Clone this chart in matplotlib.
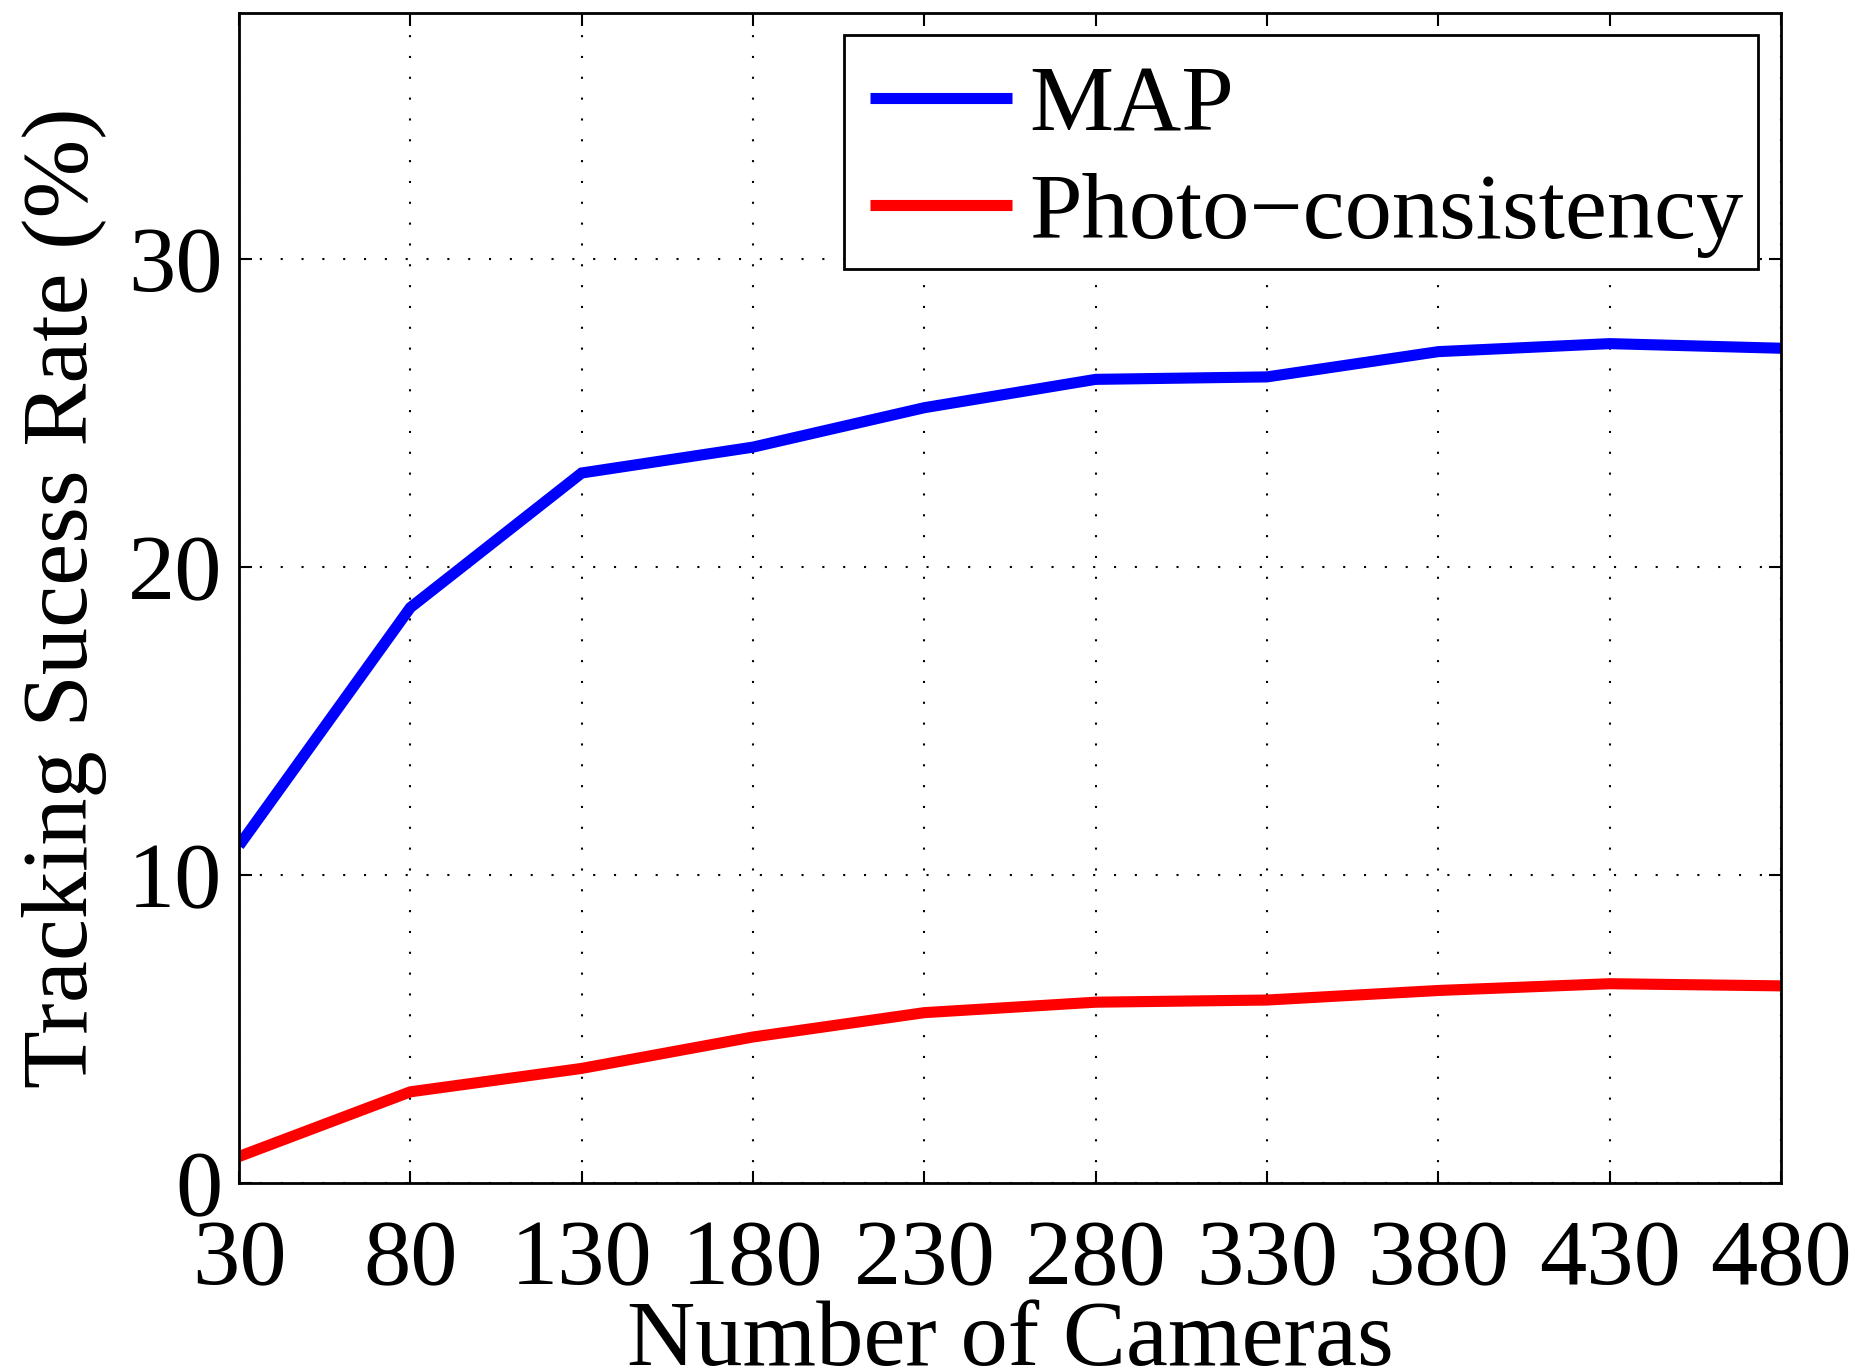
import matplotlib
matplotlib.use("Agg")
import matplotlib.pyplot as plt
from matplotlib.patches import Rectangle

# Number of cameras used for tracking
cameras = [30, 80, 130, 180, 230, 280, 330, 380, 430, 480]

# Tracking success rate (%) for each method
map_rate = [10.95, 18.68, 23.05, 23.89, 25.17, 26.09, 26.17, 26.99, 27.25, 27.10]
photo_rate = [0.86, 2.96, 3.72, 4.74, 5.53, 5.87, 5.94, 6.25, 6.47, 6.40]

series_labels = ["MAP", "Photo\u2212consistency"]
x_ticks = [30, 80, 130, 180, 230, 280, 330, 380, 430, 480]
y_ticks = [0, 10, 20, 30]

plt.rcParams["font.family"] = ["Liberation Serif", "DejaVu Serif"]

W, H, DPI = 1859, 1372, 100
fig = plt.figure(figsize=(W / DPI, H / DPI), dpi=DPI)
ax = fig.add_axes([239 / W, 1 - 1183 / H, (1781 - 239) / W, (1183 - 12.5) / H])

FS = 68
LW = 8

ax.plot(cameras, map_rate, color=(0, 0, 1), lw=LW, label=series_labels[0],
        solid_joinstyle="miter", solid_capstyle="butt")
ax.plot(cameras, photo_rate, color=(1, 0, 0), lw=LW, label=series_labels[1],
        solid_joinstyle="miter", solid_capstyle="butt")

ax.set_xlim(30, 480)
ax.set_ylim(0, 38)
ax.set_xticks(x_ticks)
ax.set_yticks(y_ticks)
ax.set_xticklabels([str(v) for v in x_ticks])
ax.set_yticklabels([str(v) for v in y_ticks])

ax.grid(True, color="black", linestyle=(0, (1, 9)), linewidth=1.5)
ax.tick_params(axis="both", which="major", direction="in", length=9, width=1.5,
               top=True, right=True, labelsize=FS, pad=12)
ax.tick_params(axis="x", pad=26)
for sp in ax.spines.values():
    sp.set_linewidth(2.0)

ax.set_xlabel("Number of Cameras", fontsize=FS, labelpad=-3)
ax.set_ylabel("Tracking Sucess Rate (%)", fontsize=FS, labelpad=15)

# Legend entries without their own frame; a separate box is drawn around them
leg = ax.legend(loc="upper right", bbox_to_anchor=(0.9877, 0.9714),
                borderaxespad=0, fontsize=FS, handlelength=1.5,
                handletextpad=0.18, borderpad=0.2, labelspacing=0.22,
                frameon=False)
leg.set_zorder(6)

box = Rectangle((844 / W, 1 - 269 / H), (1758 - 844) / W, (269 - 35) / H,
                transform=fig.transFigure, facecolor="white", edgecolor="black",
                linewidth=2.0, zorder=5, clip_on=False)
ax.add_artist(box)

fig.savefig("out.png", dpi=DPI)
